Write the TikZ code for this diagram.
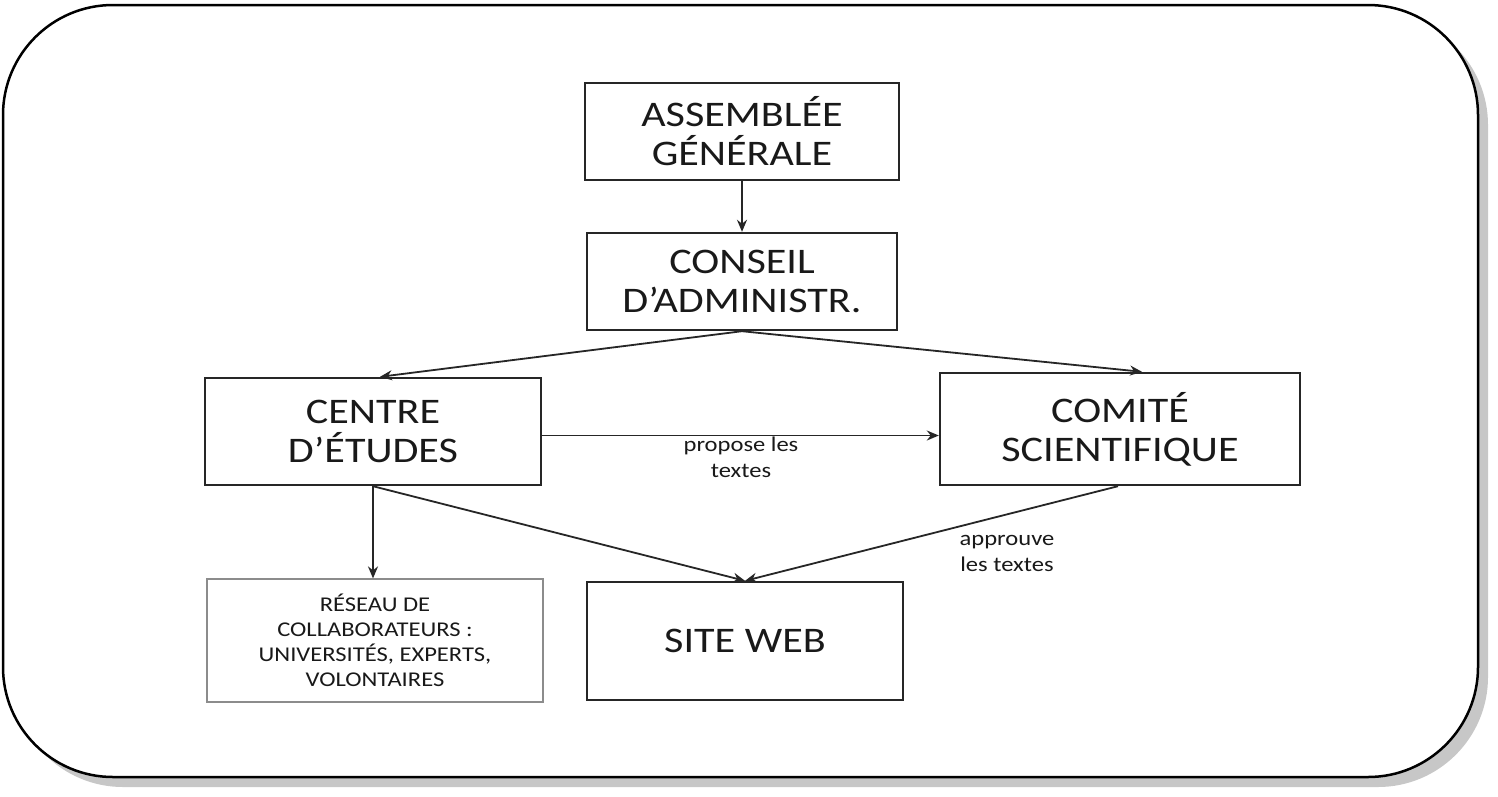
\documentclass[tikz,border=0pt]{standalone}
\usepackage{fontspec}
\setmainfont{Carlito}[FakeStretch=1.17]
\usepackage{tikz}
\usetikzlibrary{arrows.meta}
\tikzstyle{organ} = [rectangle, draw=black!85, line width=2.4pt, inner sep=0pt, align=center, text=black!90, font=\fontsize{36}{39}\selectfont]
\tikzstyle{network} = [rectangle, draw=black!45, line width=1.2pt, inner sep=0pt, align=center, text=black!90, font=\fontsize{21}{25}\selectfont]
\tikzstyle{note} = [align=center, inner sep=0pt, text=black!90, font=\fontsize{21}{26}\selectfont]
\tikzstyle{arrow} = [line width=1.8pt, draw=black!85, -{Stealth[length=12pt,width=10pt]}]

\begin{document}
\begin{tikzpicture}[x=1pt,y=-1pt]
\useasboundingbox (0,0) rectangle (1498,796);
% frame with its shadow
\fill [black!22, rounded corners=110pt] (13,15) rectangle (1488,787);
\draw [line width=2.5pt, fill=white, rounded corners=110pt] (3,5) rectangle (1478,777);

\node (ag) [organ, minimum width=314pt, minimum height=97pt] at (742,131.5) {ASSEMBLÉE\\GÉNÉRALE};
\node (ca) [organ, minimum width=310pt, minimum height=97pt] at (742,281.5) {CONSEIL\\D'ADMINISTR.};
\node (ce) [organ, minimum width=336pt, minimum height=107pt] at (373,431.5) {CENTRE\\D’ÉTUDES};
\node (cs) [organ, minimum width=360pt, minimum height=112pt] at (1120,429) {COMITÉ\\SCIENTIFIQUE};
\node (res) [network, minimum width=336pt, minimum height=123pt] at (375,640.5) {RÉSEAU DE\\COLLABORATEURS :\\UNIVERSITÉS, EXPERTS,\\VOLONTAIRES};
\node (web) [organ, minimum width=316pt, minimum height=118pt] at (745,641) {SITE WEB};

\node (propose) [note] at (741,457) {propose les\\textes};
\node (approuve) [note] at (1007,553) {approuve\\les textes};

\draw [arrow] (ag) -- (ca);
\draw [arrow] (ca.south) -- ([xshift=7pt]ce.north);
\draw [arrow] (ca.south) -- ([xshift=22pt]cs.north);
\draw [arrow] ([yshift=-4pt]ce.east) -- ([yshift=-4pt]ce.east -| cs.west);
\draw [arrow] (ce.south) -- (ce.south |- res.north);
\draw [arrow] (ce.south) -- (web.north);
\draw [arrow] ([xshift=-2pt]cs.south) -- (web.north);
\end{tikzpicture}
\end{document}
